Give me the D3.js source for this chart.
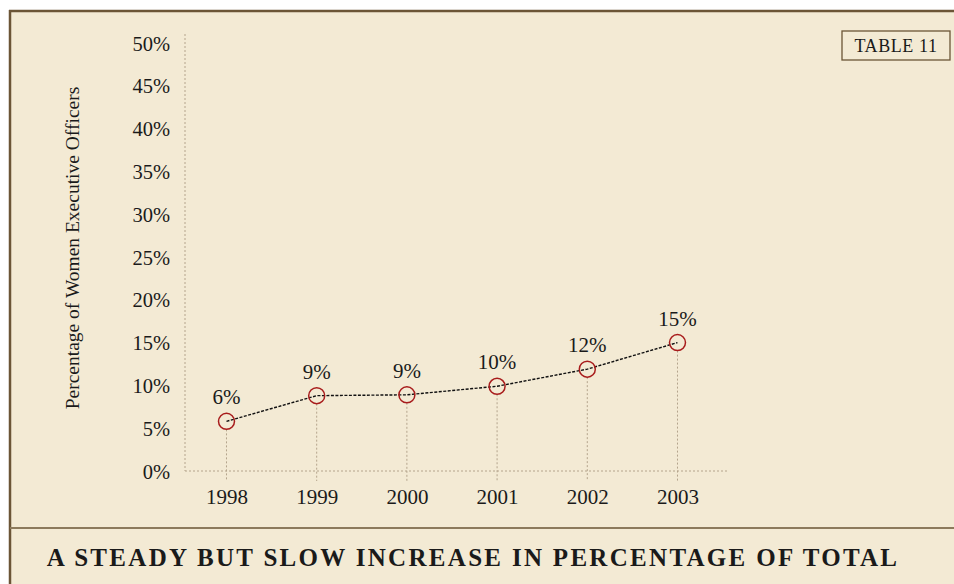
<!DOCTYPE html>
<html><head><meta charset="utf-8">
<script src="https://cdn.jsdelivr.net/npm/d3@7"></script>
<style>
html,body{margin:0;padding:0;background:#fff;}
svg{display:block;}
text{font-family:"Liberation Serif","Times New Roman",serif;fill:#1a1a1a;}
</style></head>
<body><svg id="c" width="954" height="584"></svg>
<script>
const years = [1998, 1999, 2000, 2001, 2002, 2003];
const values = [5.8, 8.8, 8.9, 9.9, 11.9, 15.0];
const valueLabels = ["6%", "9%", "9%", "10%", "12%", "15%"];
const yTicks = [0, 5, 10, 15, 20, 25, 30, 35, 40, 45, 50];
const yTitle = "Percentage of Women Executive Officers";
const tableTag = "TABLE 11";
const caption = "A STEADY BUT SLOW INCREASE IN PERCENTAGE OF TOTAL";

const svg = d3.select("#c");
// panel
svg.append("rect").attr("x",10).attr("y",11).attr("width",944).attr("height",573).attr("fill","#f3ead4");
svg.append("line").attr("x1",9).attr("x2",954).attr("y1",11).attr("y2",11).attr("stroke","#6b5536").attr("stroke-width",2.5);
svg.append("line").attr("x1",10).attr("x2",10).attr("y1",10).attr("y2",584).attr("stroke","#6b5536").attr("stroke-width",2.5);
svg.append("line").attr("x1",10).attr("x2",954).attr("y1",528).attr("y2",528).attr("stroke","#8c7a5c").attr("stroke-width",2);

const x = d3.scaleLinear().domain([1997.54, 2003.56]).range([185, 728]);
const y = d3.scaleLinear().domain([0, 50]).range([471, 43]);
const grid = "#b4a48c";

svg.append("line").attr("x1",185).attr("x2",185).attr("y1",34).attr("y2",y(0)).attr("stroke",grid).attr("stroke-dasharray","2,2").attr("stroke-width",1);
svg.append("line").attr("x1",185).attr("x2",728).attr("y1",y(0)).attr("y2",y(0)).attr("stroke",grid).attr("stroke-dasharray","2,2").attr("stroke-width",1);

const yAxis = d3.axisLeft(y).tickValues(yTicks).tickFormat(d=>d+"%").tickSize(0).tickPadding(0);
const ga = svg.append("g").attr("transform","translate(170,0)").call(yAxis);
ga.select(".domain").remove();
ga.selectAll("text").style("font-family","'Liberation Serif',serif").style("font-size","20.5px").attr("fill","#1a1a1a").attr("dy","0.35em");

const xAxis = d3.axisBottom(x).tickValues(years).tickFormat(d3.format("d")).tickSize(0).tickPadding(0);
const gx = svg.append("g").attr("transform","translate(0,497)").call(xAxis);
gx.select(".domain").remove();
gx.selectAll("text").style("font-family","'Liberation Serif',serif").style("font-size","21px").attr("fill","#1a1a1a").attr("dy","0.35em");

svg.selectAll(".drop").data(years).enter().append("line")
  .attr("x1",d=>x(d)).attr("x2",d=>x(d))
  .attr("y1",(d,i)=>y(values[i])+8).attr("y2",481)
  .attr("stroke",grid).attr("stroke-dasharray","2,2").attr("stroke-width",1);

const line = d3.line().x((d,i)=>x(years[i])).y(d=>y(d));
svg.append("path").datum(values).attr("d",line).attr("fill","none").attr("stroke","#111").attr("stroke-width",1.4).attr("stroke-dasharray","3,1.5");

svg.selectAll(".pt").data(values).enter().append("circle")
  .attr("cx",(d,i)=>x(years[i])).attr("cy",d=>y(d)).attr("r",8)
  .attr("fill","none").attr("stroke","#a81c1c").attr("stroke-width",1.5);

svg.selectAll(".vl").data(values).enter().append("text")
  .attr("x",(d,i)=>x(years[i])).attr("y",d=>y(d)-17)
  .attr("text-anchor","middle").style("font-size","21px").text((d,i)=>valueLabels[i]);

svg.append("text").attr("transform","translate(79,248) rotate(-90)").attr("text-anchor","middle")
  .style("font-size","19.5px").text(yTitle);

svg.append("rect").attr("x",842).attr("y",31).attr("width",108).attr("height",29).attr("fill","none").attr("stroke","#6b5536").attr("stroke-width",1.3);
svg.append("text").attr("x",896).attr("y",52).attr("text-anchor","middle").style("font-size","18px").style("letter-spacing","0.6px").text(tableTag);

svg.append("text").attr("x",473).attr("y",566).attr("text-anchor","middle")
  .style("font-size","25px").style("font-weight","bold").style("letter-spacing","2.3px").text(caption);
</script></body></html>
